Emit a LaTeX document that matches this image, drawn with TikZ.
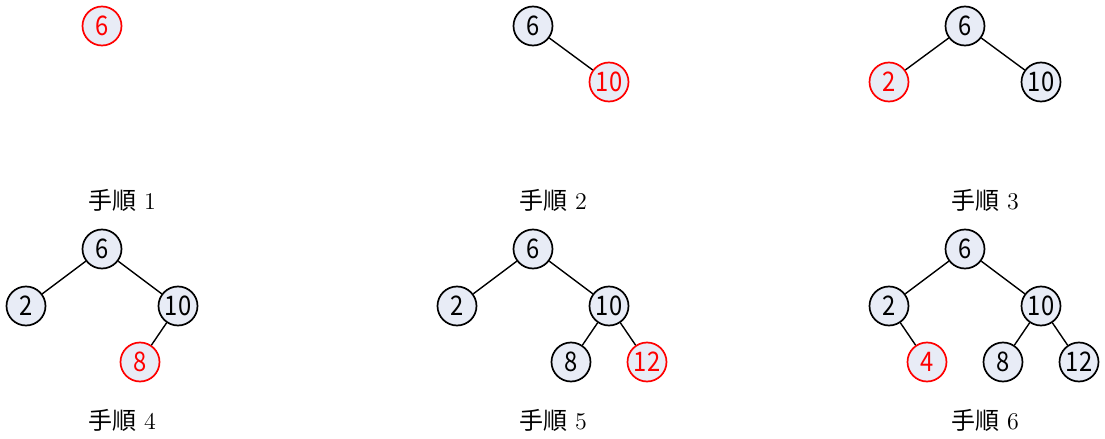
\documentclass[tikz,border=0pt]{standalone}
\usepackage{fontspec}
\newfontfamily\jpfont{Noto Sans CJK JP}
\newfontfamily\keyfont[FakeStretch=0.88]{Noto Sans CJK JP}
\definecolor{keyfill}{HTML}{E8ECF6}
\begin{document}
\begin{tikzpicture}[x=0.5pt,y=-0.5pt,
  key/.style={circle,draw=black,fill=keyfill,line width=0.85pt,minimum size=19.5pt,
    inner sep=0pt,font=\keyfont\fontsize{13.5}{13.5}\selectfont},
  newkey/.style={key,draw=red,text=red},
  edge/.style={line width=0.7pt},
  caption/.style={font=\fontsize{12}{12}\selectfont}]
\useasboundingbox (0,0) rectangle (1105,439);

% Step 1
\node[newkey] (a6) at (102,26) {6};
\node[caption] (ca) at (122,200) {{\jpfont 手順} 1};

% Step 2
\node[key] (b6) at (533,26) {6};
\node[newkey] (b10) at (609,82) {10};
\draw[edge] (b6) -- (b10);
\node[caption] (cb) at (553,200) {{\jpfont 手順} 2};

% Step 3
\node[key] (c6) at (965,26) {6};
\node[newkey] (c2) at (889,82) {2};
\node[key] (c10) at (1041,82) {10};
\draw[edge] (c6) -- (c2);
\draw[edge] (c6) -- (c10);
\node[caption] (cc) at (985,200) {{\jpfont 手順} 3};

% Step 4
\node[key] (d6) at (102,249) {6};
\node[key] (d2) at (26,306) {2};
\node[key] (d10) at (178,306) {10};
\node[newkey] (d8) at (140,362) {8};
\draw[edge] (d6) -- (d2);
\draw[edge] (d6) -- (d10);
\draw[edge] (d10) -- (d8);
\node[caption] (cd) at (122,420) {{\jpfont 手順} 4};

% Step 5
\node[key] (e6) at (533,249) {6};
\node[key] (e2) at (457,306) {2};
\node[key] (e10) at (609,306) {10};
\node[key] (e8) at (571,362) {8};
\node[newkey] (e12) at (647,362) {12};
\draw[edge] (e6) -- (e2);
\draw[edge] (e6) -- (e10);
\draw[edge] (e10) -- (e8);
\draw[edge] (e10) -- (e12);
\node[caption] (ce) at (553,420) {{\jpfont 手順} 5};

% Step 6
\node[key] (f6) at (965,249) {6};
\node[key] (f2) at (889,306) {2};
\node[key] (f10) at (1041,306) {10};
\node[newkey] (f4) at (927,362) {4};
\node[key] (f8) at (1003,362) {8};
\node[key] (f12) at (1079,362) {12};
\draw[edge] (f6) -- (f2);
\draw[edge] (f6) -- (f10);
\draw[edge] (f2) -- (f4);
\draw[edge] (f10) -- (f8);
\draw[edge] (f10) -- (f12);
\node[caption] (cf) at (985,420) {{\jpfont 手順} 6};
\end{tikzpicture}
\end{document}
